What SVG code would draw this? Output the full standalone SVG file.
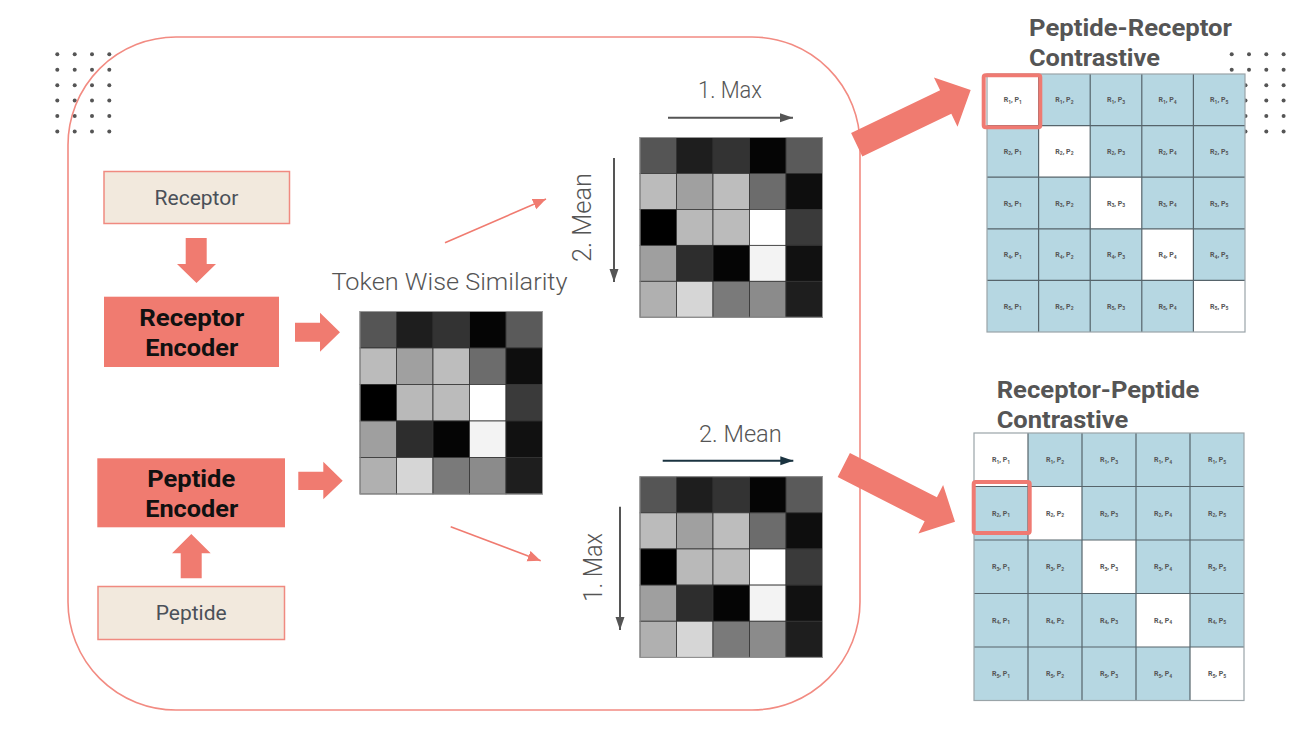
<svg xmlns="http://www.w3.org/2000/svg" xmlns:xlink="http://www.w3.org/1999/xlink" width="1310" height="744" viewBox="0 0 1310 744">
<style>
.lbl{font-family:Roboto,"Liberation Sans",sans-serif;font-weight:300;fill:#555;}
.box{font-family:Roboto,"Liberation Sans",sans-serif;font-weight:400;fill:#4a5058;font-size:21px;}
.enc{font-family:Roboto,"Liberation Sans",sans-serif;font-weight:700;fill:#111;font-size:23px;}
.ttl{font-family:Roboto,"Liberation Sans",sans-serif;font-weight:700;fill:#555;font-size:24px;}
.cl{font-family:Roboto,"Liberation Sans",sans-serif;font-weight:700;fill:#555;font-size:7px;}
.sb{font-size:5px;}
.dot{fill:#555;}
.big{fill:#f07b70;}
.cb{fill:#b6d7e2;}
.cw{fill:#ffffff;}
.grid{fill:none;stroke:#56646b;stroke-width:1.2;}
.outer{fill:none;stroke:#9aa4a8;stroke-width:1.2;}
.hl{fill:none;stroke:#ef7a72;stroke-width:4;}
.in{fill:#f2e9dd;stroke:#f08a80;stroke-width:1.5;}
.encbox{fill:#f07b70;}
</style>
<defs>
<marker id="ahg" markerUnits="userSpaceOnUse" markerWidth="14" markerHeight="10" refX="13" refY="5" orient="auto"><path d="M0,0.5 L13,5 L0,9.5 z" fill="#555"/></marker>
<marker id="ahd" markerUnits="userSpaceOnUse" markerWidth="14" markerHeight="10" refX="13" refY="5" orient="auto"><path d="M0,0.5 L13,5 L0,9.5 z" fill="#1a3340"/></marker>
<marker id="ahp" markerUnits="userSpaceOnUse" markerWidth="14" markerHeight="12" refX="13" refY="6" orient="auto"><path d="M0,0.5 L13,6 L0,11.5 z" fill="#f07b70"/></marker>
<g id="sim">
<g stroke="#333" stroke-width="0.8">
<rect x="0" y="0" width="36.5" height="36.5" fill="#555"/>
<rect x="36.5" y="0" width="36.5" height="36.5" fill="#1e1e1e"/>
<rect x="73" y="0" width="36.5" height="36.5" fill="#333"/>
<rect x="109.5" y="0" width="36.5" height="36.5" fill="#050505"/>
<rect x="146" y="0" width="36.5" height="36.5" fill="#5a5a5a"/>
<rect x="0" y="36.5" width="36.5" height="36.5" fill="#bbb"/>
<rect x="36.5" y="36.5" width="36.5" height="36.5" fill="#a0a0a0"/>
<rect x="73" y="36.5" width="36.5" height="36.5" fill="#bdbdbd"/>
<rect x="109.5" y="36.5" width="36.5" height="36.5" fill="#6c6c6c"/>
<rect x="146" y="36.5" width="36.5" height="36.5" fill="#0e0e0e"/>
<rect x="0" y="73" width="36.5" height="36.5" fill="#000"/>
<rect x="36.5" y="73" width="36.5" height="36.5" fill="#b9b9b9"/>
<rect x="73" y="73" width="36.5" height="36.5" fill="#bbb"/>
<rect x="109.5" y="73" width="36.5" height="36.5" fill="#fff"/>
<rect x="146" y="73" width="36.5" height="36.5" fill="#3a3a3a"/>
<rect x="0" y="109.5" width="36.5" height="36.5" fill="#9f9f9f"/>
<rect x="36.5" y="109.5" width="36.5" height="36.5" fill="#2d2d2d"/>
<rect x="73" y="109.5" width="36.5" height="36.5" fill="#050505"/>
<rect x="109.5" y="109.5" width="36.5" height="36.5" fill="#f3f3f3"/>
<rect x="146" y="109.5" width="36.5" height="36.5" fill="#111"/>
<rect x="0" y="146" width="36.5" height="36.5" fill="#b0b0b0"/>
<rect x="36.5" y="146" width="36.5" height="36.5" fill="#d6d6d6"/>
<rect x="73" y="146" width="36.5" height="36.5" fill="#7a7a7a"/>
<rect x="109.5" y="146" width="36.5" height="36.5" fill="#8b8b8b"/>
<rect x="146" y="146" width="36.5" height="36.5" fill="#1e1e1e"/>
</g>
<rect x="0" y="0" width="182.5" height="182.5" fill="none" stroke="#999" stroke-width="1"/>
</g>
</defs>

<rect width="1310" height="744" fill="#fff"/>

<g id="dots-left">
<circle class="dot" cx="57.3" cy="54.3" r="2"/><circle class="dot" cx="74.7" cy="54.3" r="2"/><circle class="dot" cx="92" cy="54.3" r="2"/><circle class="dot" cx="109.3" cy="54.3" r="2"/>
<circle class="dot" cx="57.3" cy="69.8" r="2"/><circle class="dot" cx="74.7" cy="69.8" r="2"/><circle class="dot" cx="92" cy="69.8" r="2"/><circle class="dot" cx="109.3" cy="69.8" r="2"/>
<circle class="dot" cx="57.3" cy="85.2" r="2"/><circle class="dot" cx="74.7" cy="85.2" r="2"/><circle class="dot" cx="92" cy="85.2" r="2"/><circle class="dot" cx="109.3" cy="85.2" r="2"/>
<circle class="dot" cx="57.3" cy="100.6" r="2"/><circle class="dot" cx="74.7" cy="100.6" r="2"/><circle class="dot" cx="92" cy="100.6" r="2"/><circle class="dot" cx="109.3" cy="100.6" r="2"/>
<circle class="dot" cx="57.3" cy="116" r="2"/><circle class="dot" cx="74.7" cy="116" r="2"/><circle class="dot" cx="92" cy="116" r="2"/><circle class="dot" cx="109.3" cy="116" r="2"/>
<circle class="dot" cx="57.3" cy="131.4" r="2"/><circle class="dot" cx="74.7" cy="131.4" r="2"/><circle class="dot" cx="92" cy="131.4" r="2"/><circle class="dot" cx="109.3" cy="131.4" r="2"/>
</g>
<g id="dots-right">
<circle class="dot" cx="1231.7" cy="54.3" r="2"/><circle class="dot" cx="1249" cy="54.3" r="2"/><circle class="dot" cx="1266.3" cy="54.3" r="2"/><circle class="dot" cx="1283.6" cy="54.3" r="2"/>
<circle class="dot" cx="1231.7" cy="69.8" r="2"/><circle class="dot" cx="1249" cy="69.8" r="2"/><circle class="dot" cx="1266.3" cy="69.8" r="2"/><circle class="dot" cx="1283.6" cy="69.8" r="2"/>
<circle class="dot" cx="1245.5" cy="85.2" r="2"/><circle class="dot" cx="1266.3" cy="85.2" r="2"/><circle class="dot" cx="1283.6" cy="85.2" r="2"/>
<circle class="dot" cx="1245.5" cy="100.6" r="2"/><circle class="dot" cx="1266.3" cy="100.6" r="2"/><circle class="dot" cx="1283.6" cy="100.6" r="2"/>
<circle class="dot" cx="1245.5" cy="116" r="2"/><circle class="dot" cx="1266.3" cy="116" r="2"/><circle class="dot" cx="1283.6" cy="116" r="2"/>
<circle class="dot" cx="1245.5" cy="131.4" r="2"/><circle class="dot" cx="1266.3" cy="131.4" r="2"/><circle class="dot" cx="1283.6" cy="131.4" r="2"/>
</g>

<g id="frame">
<rect x="68" y="37" width="792" height="673" rx="108" ry="108" fill="none" stroke="#f28b82" stroke-width="1.6"/>
</g>

<g id="receptor">
<rect class="in" x="104" y="171.5" width="185.5" height="52"/>
<text class="box" x="196.5" y="205" text-anchor="middle">Receptor</text>
</g>
<g id="receptor-encoder">
<rect class="encbox" x="104" y="296.7" width="175" height="70.3"/>
<text class="enc" x="191.7" y="325.7" text-anchor="middle" textLength="105" lengthAdjust="spacingAndGlyphs">Receptor</text>
<text class="enc" x="191.7" y="356" text-anchor="middle" textLength="93" lengthAdjust="spacingAndGlyphs">Encoder</text>
</g>
<g id="peptide-encoder">
<rect class="encbox" x="97.3" y="458.3" width="187.7" height="69"/>
<text class="enc" x="191.2" y="486.7" text-anchor="middle" textLength="88" lengthAdjust="spacingAndGlyphs">Peptide</text>
<text class="enc" x="191.7" y="516.7" text-anchor="middle" textLength="93" lengthAdjust="spacingAndGlyphs">Encoder</text>
</g>
<g id="peptide">
<rect class="in" x="98" y="586.5" width="186.5" height="53"/>
<text class="box" x="191.2" y="620" text-anchor="middle">Peptide</text>
</g>

<g id="similarity">
<text class="lbl" x="331.5" y="290" font-size="23" textLength="236" lengthAdjust="spacingAndGlyphs">Token Wise Similarity</text>
<use xlink:href="#sim" href="#sim" transform="translate(360,311.5)"/>
</g>

<g id="max-mean-matrix">
<use xlink:href="#sim" href="#sim" transform="translate(640,137.5) scale(1,0.985)"/>
<text class="lbl" x="698" y="98.3" font-size="23" textLength="64" lengthAdjust="spacingAndGlyphs">1. Max</text>
<text class="lbl" transform="translate(590.5,217.5) rotate(-90)" x="0" y="0" font-size="25" text-anchor="middle" textLength="89" lengthAdjust="spacingAndGlyphs">2. Mean</text>
</g>

<g id="mean-max-matrix">
<use xlink:href="#sim" href="#sim" transform="translate(640,476.7) scale(1,0.99)"/>
<text class="lbl" x="699" y="442.3" font-size="23" textLength="82.7" lengthAdjust="spacingAndGlyphs">2. Mean</text>
<text class="lbl" transform="translate(601.5,567.3) rotate(-90)" x="0" y="0" font-size="25" text-anchor="middle" textLength="68.7" lengthAdjust="spacingAndGlyphs">1. Max</text>
</g>

<g id="peptide-receptor">
<text class="ttl" x="1029" y="36" textLength="203" lengthAdjust="spacingAndGlyphs">Peptide-Receptor</text>
<text class="ttl" x="1029" y="66" textLength="131" lengthAdjust="spacingAndGlyphs">Contrastive</text>
<rect class="cb" x="987" y="74" width="258" height="258"/>
<rect class="cw" x="987" y="74" width="51.6" height="51.6"/>
<rect class="cw" x="1038.6" y="125.6" width="51.6" height="51.6"/>
<rect class="cw" x="1090.2" y="177.2" width="51.6" height="51.6"/>
<rect class="cw" x="1141.8" y="228.8" width="51.6" height="51.6"/>
<rect class="cw" x="1193.4" y="280.4" width="51.6" height="51.6"/>
<path class="grid" d="M1038.6,74V332M1090.2,74V332M1141.8,74V332M1193.4,74V332M987,125.6H1245M987,177.2H1245M987,228.8H1245M987,280.4H1245"/>
<rect class="outer" x="987" y="74" width="258" height="258"/>
<g class="cl" text-anchor="middle">
<text x="1012.8" y="102.3">R<tspan class="sb" dy="1.5">1</tspan><tspan dy="-1.5">, P</tspan><tspan class="sb" dy="1.5">1</tspan></text>
<text x="1064.4" y="102.3">R<tspan class="sb" dy="1.5">1</tspan><tspan dy="-1.5">, P</tspan><tspan class="sb" dy="1.5">2</tspan></text>
<text x="1116" y="102.3">R<tspan class="sb" dy="1.5">1</tspan><tspan dy="-1.5">, P</tspan><tspan class="sb" dy="1.5">3</tspan></text>
<text x="1167.6" y="102.3">R<tspan class="sb" dy="1.5">1</tspan><tspan dy="-1.5">, P</tspan><tspan class="sb" dy="1.5">4</tspan></text>
<text x="1219.2" y="102.3">R<tspan class="sb" dy="1.5">1</tspan><tspan dy="-1.5">, P</tspan><tspan class="sb" dy="1.5">5</tspan></text>
<text x="1012.8" y="153.9">R<tspan class="sb" dy="1.5">2</tspan><tspan dy="-1.5">, P</tspan><tspan class="sb" dy="1.5">1</tspan></text>
<text x="1064.4" y="153.9">R<tspan class="sb" dy="1.5">2</tspan><tspan dy="-1.5">, P</tspan><tspan class="sb" dy="1.5">2</tspan></text>
<text x="1116" y="153.9">R<tspan class="sb" dy="1.5">2</tspan><tspan dy="-1.5">, P</tspan><tspan class="sb" dy="1.5">3</tspan></text>
<text x="1167.6" y="153.9">R<tspan class="sb" dy="1.5">2</tspan><tspan dy="-1.5">, P</tspan><tspan class="sb" dy="1.5">4</tspan></text>
<text x="1219.2" y="153.9">R<tspan class="sb" dy="1.5">2</tspan><tspan dy="-1.5">, P</tspan><tspan class="sb" dy="1.5">5</tspan></text>
<text x="1012.8" y="205.5">R<tspan class="sb" dy="1.5">3</tspan><tspan dy="-1.5">, P</tspan><tspan class="sb" dy="1.5">1</tspan></text>
<text x="1064.4" y="205.5">R<tspan class="sb" dy="1.5">3</tspan><tspan dy="-1.5">, P</tspan><tspan class="sb" dy="1.5">2</tspan></text>
<text x="1116" y="205.5">R<tspan class="sb" dy="1.5">3</tspan><tspan dy="-1.5">, P</tspan><tspan class="sb" dy="1.5">3</tspan></text>
<text x="1167.6" y="205.5">R<tspan class="sb" dy="1.5">3</tspan><tspan dy="-1.5">, P</tspan><tspan class="sb" dy="1.5">4</tspan></text>
<text x="1219.2" y="205.5">R<tspan class="sb" dy="1.5">3</tspan><tspan dy="-1.5">, P</tspan><tspan class="sb" dy="1.5">5</tspan></text>
<text x="1012.8" y="257.1">R<tspan class="sb" dy="1.5">4</tspan><tspan dy="-1.5">, P</tspan><tspan class="sb" dy="1.5">1</tspan></text>
<text x="1064.4" y="257.1">R<tspan class="sb" dy="1.5">4</tspan><tspan dy="-1.5">, P</tspan><tspan class="sb" dy="1.5">2</tspan></text>
<text x="1116" y="257.1">R<tspan class="sb" dy="1.5">4</tspan><tspan dy="-1.5">, P</tspan><tspan class="sb" dy="1.5">3</tspan></text>
<text x="1167.6" y="257.1">R<tspan class="sb" dy="1.5">4</tspan><tspan dy="-1.5">, P</tspan><tspan class="sb" dy="1.5">4</tspan></text>
<text x="1219.2" y="257.1">R<tspan class="sb" dy="1.5">4</tspan><tspan dy="-1.5">, P</tspan><tspan class="sb" dy="1.5">5</tspan></text>
<text x="1012.8" y="308.7">R<tspan class="sb" dy="1.5">5</tspan><tspan dy="-1.5">, P</tspan><tspan class="sb" dy="1.5">1</tspan></text>
<text x="1064.4" y="308.7">R<tspan class="sb" dy="1.5">5</tspan><tspan dy="-1.5">, P</tspan><tspan class="sb" dy="1.5">2</tspan></text>
<text x="1116" y="308.7">R<tspan class="sb" dy="1.5">5</tspan><tspan dy="-1.5">, P</tspan><tspan class="sb" dy="1.5">3</tspan></text>
<text x="1167.6" y="308.7">R<tspan class="sb" dy="1.5">5</tspan><tspan dy="-1.5">, P</tspan><tspan class="sb" dy="1.5">4</tspan></text>
<text x="1219.2" y="308.7">R<tspan class="sb" dy="1.5">5</tspan><tspan dy="-1.5">, P</tspan><tspan class="sb" dy="1.5">5</tspan></text>
</g>
<rect class="hl" x="983.7" y="75.3" width="56.6" height="52" rx="2"/>
</g>

<g id="receptor-peptide">
<text class="ttl" x="996.7" y="398.3" textLength="202.6" lengthAdjust="spacingAndGlyphs">Receptor-Peptide</text>
<text class="ttl" x="996.7" y="428.3" textLength="131.6" lengthAdjust="spacingAndGlyphs">Contrastive</text>
<rect class="cb" x="974" y="433" width="270" height="267.5"/>
<rect class="cw" x="974" y="433" width="54" height="53.5"/>
<rect class="cw" x="1028" y="486.5" width="54" height="53.5"/>
<rect class="cw" x="1082" y="540" width="54" height="53.5"/>
<rect class="cw" x="1136" y="593.5" width="54" height="53.5"/>
<rect class="cw" x="1190" y="647" width="54" height="53.5"/>
<path class="grid" d="M1028,433V700.5M1082,433V700.5M1136,433V700.5M1190,433V700.5M974,486.5H1244M974,540H1244M974,593.5H1244M974,647H1244"/>
<rect class="outer" x="974" y="433" width="270" height="267.5"/>
<g class="cl" text-anchor="middle">
<text x="1001" y="462.3">R<tspan class="sb" dy="1.5">1</tspan><tspan dy="-1.5">, P</tspan><tspan class="sb" dy="1.5">1</tspan></text>
<text x="1055" y="462.3">R<tspan class="sb" dy="1.5">1</tspan><tspan dy="-1.5">, P</tspan><tspan class="sb" dy="1.5">2</tspan></text>
<text x="1109" y="462.3">R<tspan class="sb" dy="1.5">1</tspan><tspan dy="-1.5">, P</tspan><tspan class="sb" dy="1.5">3</tspan></text>
<text x="1163" y="462.3">R<tspan class="sb" dy="1.5">1</tspan><tspan dy="-1.5">, P</tspan><tspan class="sb" dy="1.5">4</tspan></text>
<text x="1217" y="462.3">R<tspan class="sb" dy="1.5">1</tspan><tspan dy="-1.5">, P</tspan><tspan class="sb" dy="1.5">5</tspan></text>
<text x="1001" y="515.8">R<tspan class="sb" dy="1.5">2</tspan><tspan dy="-1.5">, P</tspan><tspan class="sb" dy="1.5">1</tspan></text>
<text x="1055" y="515.8">R<tspan class="sb" dy="1.5">2</tspan><tspan dy="-1.5">, P</tspan><tspan class="sb" dy="1.5">2</tspan></text>
<text x="1109" y="515.8">R<tspan class="sb" dy="1.5">2</tspan><tspan dy="-1.5">, P</tspan><tspan class="sb" dy="1.5">3</tspan></text>
<text x="1163" y="515.8">R<tspan class="sb" dy="1.5">2</tspan><tspan dy="-1.5">, P</tspan><tspan class="sb" dy="1.5">4</tspan></text>
<text x="1217" y="515.8">R<tspan class="sb" dy="1.5">2</tspan><tspan dy="-1.5">, P</tspan><tspan class="sb" dy="1.5">5</tspan></text>
<text x="1001" y="569.3">R<tspan class="sb" dy="1.5">3</tspan><tspan dy="-1.5">, P</tspan><tspan class="sb" dy="1.5">1</tspan></text>
<text x="1055" y="569.3">R<tspan class="sb" dy="1.5">3</tspan><tspan dy="-1.5">, P</tspan><tspan class="sb" dy="1.5">2</tspan></text>
<text x="1109" y="569.3">R<tspan class="sb" dy="1.5">3</tspan><tspan dy="-1.5">, P</tspan><tspan class="sb" dy="1.5">3</tspan></text>
<text x="1163" y="569.3">R<tspan class="sb" dy="1.5">3</tspan><tspan dy="-1.5">, P</tspan><tspan class="sb" dy="1.5">4</tspan></text>
<text x="1217" y="569.3">R<tspan class="sb" dy="1.5">3</tspan><tspan dy="-1.5">, P</tspan><tspan class="sb" dy="1.5">5</tspan></text>
<text x="1001" y="622.8">R<tspan class="sb" dy="1.5">4</tspan><tspan dy="-1.5">, P</tspan><tspan class="sb" dy="1.5">1</tspan></text>
<text x="1055" y="622.8">R<tspan class="sb" dy="1.5">4</tspan><tspan dy="-1.5">, P</tspan><tspan class="sb" dy="1.5">2</tspan></text>
<text x="1109" y="622.8">R<tspan class="sb" dy="1.5">4</tspan><tspan dy="-1.5">, P</tspan><tspan class="sb" dy="1.5">3</tspan></text>
<text x="1163" y="622.8">R<tspan class="sb" dy="1.5">4</tspan><tspan dy="-1.5">, P</tspan><tspan class="sb" dy="1.5">4</tspan></text>
<text x="1217" y="622.8">R<tspan class="sb" dy="1.5">4</tspan><tspan dy="-1.5">, P</tspan><tspan class="sb" dy="1.5">5</tspan></text>
<text x="1001" y="676.3">R<tspan class="sb" dy="1.5">5</tspan><tspan dy="-1.5">, P</tspan><tspan class="sb" dy="1.5">1</tspan></text>
<text x="1055" y="676.3">R<tspan class="sb" dy="1.5">5</tspan><tspan dy="-1.5">, P</tspan><tspan class="sb" dy="1.5">2</tspan></text>
<text x="1109" y="676.3">R<tspan class="sb" dy="1.5">5</tspan><tspan dy="-1.5">, P</tspan><tspan class="sb" dy="1.5">3</tspan></text>
<text x="1163" y="676.3">R<tspan class="sb" dy="1.5">5</tspan><tspan dy="-1.5">, P</tspan><tspan class="sb" dy="1.5">4</tspan></text>
<text x="1217" y="676.3">R<tspan class="sb" dy="1.5">5</tspan><tspan dy="-1.5">, P</tspan><tspan class="sb" dy="1.5">5</tspan></text>
</g>
<rect class="hl" x="973.7" y="482" width="56" height="51" rx="2"/>
</g>

<g id="connectors">
<polygon class="big" points="185.7,238 206.7,238 206.7,264 216,264 196.5,283 177,264 185.7,264"/>
<polygon class="big" points="191.3,534 210.7,553.3 201.7,553.3 201.7,578.3 180.7,578.3 180.7,553.3 172,553.3"/>
<polygon class="big" points="295,322.7 320,322.7 320,312.7 340,332.2 320,351.7 320,341.7 295,341.7"/>
<polygon class="big" points="298.3,471.7 323.3,471.7 323.3,461.7 342.7,480.7 323.3,499.3 323.3,490 298.3,490"/>
<polygon class="big" transform="translate(856.7,144.7) rotate(-25.6)" points="0,-13 98.7,-13 98.7,-27.3 126.4,0 98.7,27.3 98.7,13 0,13"/>
<polygon class="big" transform="translate(843.8,465) rotate(27)" points="0,-13.5 97.6,-13.5 97.6,-27.2 124.8,0 97.6,27.2 97.6,13.5 0,13.5"/>
<line x1="445" y1="242.7" x2="546" y2="199" stroke="#f07b70" stroke-width="1.5" marker-end="url(#ahp)"/>
<line x1="450.7" y1="526.7" x2="540.7" y2="560.7" stroke="#f07b70" stroke-width="1.5" marker-end="url(#ahp)"/>
<line x1="668" y1="117.7" x2="793" y2="117.7" stroke="#555" stroke-width="2" marker-end="url(#ahg)"/>
<line x1="614" y1="158" x2="614" y2="282" stroke="#555" stroke-width="2" marker-end="url(#ahg)"/>
<line x1="662.7" y1="460.7" x2="793.3" y2="460.7" stroke="#1a3340" stroke-width="2" marker-end="url(#ahd)"/>
<line x1="620" y1="506.7" x2="620" y2="630" stroke="#555" stroke-width="2" marker-end="url(#ahg)"/>
</g>
</svg>
